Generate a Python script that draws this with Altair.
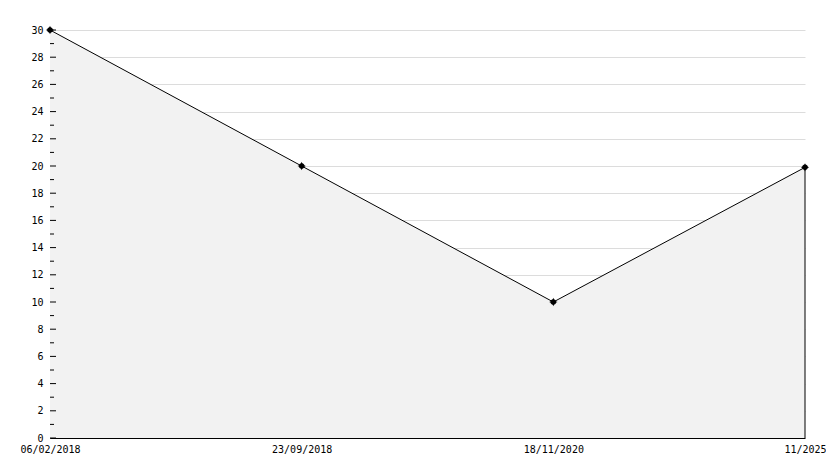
import altair as alt
import pandas as pd

dates = ["06/02/2018", "23/09/2018", "18/11/2020", "11/2025"]
values = [30, 20, 10, 19.9]
major_ticks = list(range(0, 31, 2))
minor_ticks = list(range(1, 30, 2))

df = pd.DataFrame({"date": dates, "value": values})
major_df = pd.DataFrame({"value": major_ticks})
minor_df = pd.DataFrame({"value": minor_ticks})
last_df = df.iloc[[-1]]

FONT = "DejaVu Sans Mono"

x_scale = alt.Scale(type="point", padding=0, domain=dates)
x_axis = alt.Axis(
    title=None, labelAngle=0, ticks=False, domain=True, domainColor="#000000",
    labelFont=FONT, labelFontSize=10, labelColor="#000000", labelPadding=6,
    grid=False, labelOverlap=False,
)
x_enc = alt.X("date:O", sort=dates, scale=x_scale, axis=x_axis)
y_scale = alt.Scale(domain=[0, 30], nice=False, zero=True)
y_axis = alt.Axis(
    title=None, values=major_ticks, ticks=False, domain=True, domainColor="#000000",
    labelFont=FONT, labelFontSize=10, labelColor="#000000", labelPadding=7,
    labelOverlap=False, labelFlush=False,
    grid=True, gridColor="#dcdcdc", gridWidth=1,
)
y_enc = alt.Y("value:Q", scale=y_scale, axis=y_axis)

area = alt.Chart(df).mark_area(color="#f2f2f2", opacity=1).encode(x=x_enc, y=y_enc)
line = alt.Chart(df).mark_line(color="#000000", strokeWidth=1).encode(x=x_enc, y=y_enc)
edge = alt.Chart(last_df).mark_rule(color="#000000", strokeWidth=1).encode(
    x=x_enc, y=y_enc, y2=alt.datum(0)
)
pts = alt.Chart(df).mark_point(
    shape="M0,-1L0.3,-0.3L1,0L0.3,0.3L0,1L-0.3,0.3L-1,0L-0.3,-0.3Z",
    filled=True, color="#000000", size=70, opacity=1,
).encode(x=x_enc, y=y_enc)
pts2 = alt.Chart(df).mark_point(
    shape="circle", filled=True, color="#000000", size=30, opacity=1,
).encode(x=x_enc, y=y_enc)

major = alt.Chart(major_df).mark_rule(color="#000000", strokeWidth=1).encode(
    y=y_enc, x=alt.value(0), x2=alt.value(6)
)
minor = alt.Chart(minor_df).mark_rule(color="#000000", strokeWidth=1).encode(
    y=y_enc, x=alt.value(0), x2=alt.value(4)
)

chart = alt.layer(area, line, edge, major, minor, pts, pts2).properties(
    width=755,
    height=408,
    autosize=alt.AutoSizeParams(type="none"),
    padding={"left": 42, "top": 22, "right": 21, "bottom": 18},
    background="#ffffff",
).configure_view(stroke=None)

chart.save("out.html", embed_options={"renderer": "svg", "actions": False})
